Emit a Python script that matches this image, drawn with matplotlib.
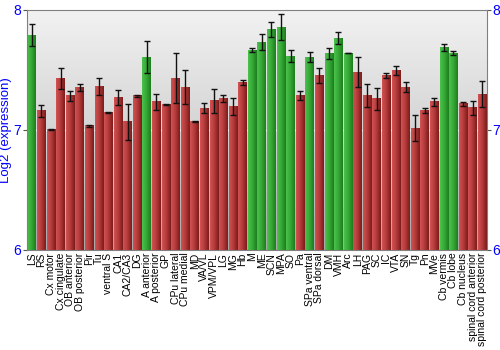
import matplotlib
matplotlib.use("Agg")
import matplotlib.pyplot as plt
import numpy as np
from matplotlib.colors import LinearSegmentedColormap

regions = [
    "LS", "RS", "Cx motor", "Cx cingulate", "OB anterior", "OB posterior", "Pir", "Tu",
    "ventral S", "CA1", "CA2/CA3", "DG", "A anterior", "A posterior", "GP", "CPu lateral",
    "CPu medial", "MD", "VA/VL", "VPM/VPL", "LG", "MG", "Hb", "M", "ME", "SCN", "MPA",
    "SO", "Pa", "SPa ventral", "SPa dorsal", "DM", "VMH", "Arc", "LH", "PAG", "SC", "IC",
    "VTA", "SN", "Tg", "Pn", "MVe", "Cb vermis", "Cb lobe", "Cb nucleus",
    "spinal cord anterior", "spinal cord posterior",
]
expression = [
    7.79, 7.16, 7.00, 7.425, 7.283, 7.356, 7.033, 7.364,
    7.142, 7.269, 7.067, 7.283, 7.606, 7.233, 7.211, 7.43,
    7.356, 7.067, 7.181, 7.242, 7.258, 7.192, 7.397, 7.664, 7.73, 7.836, 7.856,
    7.614, 7.283, 7.606, 7.453, 7.636, 7.764, 7.639, 7.48, 7.286, 7.258, 7.45,
    7.492, 7.356, 7.014, 7.161, 7.233, 7.686, 7.639, 7.217,
    7.183, 7.297,
]
error = [
    0.09, 0.05, 0.005, 0.088, 0.04, 0.03, 0.01, 0.07,
    0.005, 0.064, 0.15, 0.01, 0.13, 0.066, 0.003, 0.21,
    0.14, 0.005, 0.04, 0.1, 0.03, 0.07, 0.02, 0.017, 0.065, 0.063, 0.105,
    0.047, 0.037, 0.043, 0.064, 0.049, 0.047, 0.003, 0.125, 0.093, 0.094, 0.022,
    0.036, 0.042, 0.107, 0.024, 0.036, 0.033, 0.015, 0.015,
    0.057, 0.11,
]
highlighted = {"LS", "A anterior", "M", "ME", "SCN", "MPA", "SO", "SPa ventral",
               "DM", "VMH", "Arc", "Cb vermis", "Cb lobe"}

green_cmap = LinearSegmentedColormap.from_list("g", ["#4cc04c", "#35a835", "#1e7e1e"])
red_cmap = LinearSegmentedColormap.from_list("r", ["#d05252", "#b43a3a", "#7e1c1c"])
bg_cmap = LinearSegmentedColormap.from_list("bg", ["#f2f2f2", "#d4d4d4", "#a8a8a8"])

plt.rcParams["font.family"] = ["Liberation Sans", "DejaVu Sans"]

fig = plt.figure(figsize=(5, 3.5), dpi=100)
ax = fig.add_axes([0.054, 0.286, 0.92, 0.686])

ymin, ymax = 6, 8
n = len(regions)
x = np.arange(n)
ax.set_xlim(-0.5, n - 0.5)
ax.set_ylim(ymin, ymax)

# background gradient, light at top
ax.imshow(np.linspace(0, 1, 100).reshape(-1, 1), aspect="auto", cmap=bg_cmap,
          extent=[-0.5, n - 0.5, ymin, ymax], zorder=0, origin="upper")
ax.axhline(7, color="white", linewidth=1, alpha=0.8, zorder=1)

grad = np.linspace(0, 1, 20).reshape(1, -1)
width = 0.9
for xi, val, name in zip(x, expression, regions):
    cmap = green_cmap if name in highlighted else red_cmap
    ax.imshow(grad, aspect="auto", cmap=cmap,
              extent=[xi - width / 2, xi + width / 2, ymin, val], zorder=2)

ax.errorbar(x, expression, yerr=error, fmt="none", ecolor="#111111",
            elinewidth=1, capsize=2, capthick=1, zorder=3)

ax.set_xticks(x)
ax.set_xticklabels(regions, rotation=90, fontsize=7.5)
ax.tick_params(axis="x", length=0, pad=2)
ax.set_yticks([6, 7, 8])
ax.tick_params(axis="y", colors="#555555", labelcolor="blue", labelsize=10,
               length=3, right=True, labelright=True, pad=1)
ax.set_ylabel("Log2 (expression)", color="blue", fontsize=9.5)
ax.yaxis.set_label_coords(-0.033, 0.5)
for sp in ax.spines.values():
    sp.set_color("#808080")

fig.savefig("out.png", dpi=100)
